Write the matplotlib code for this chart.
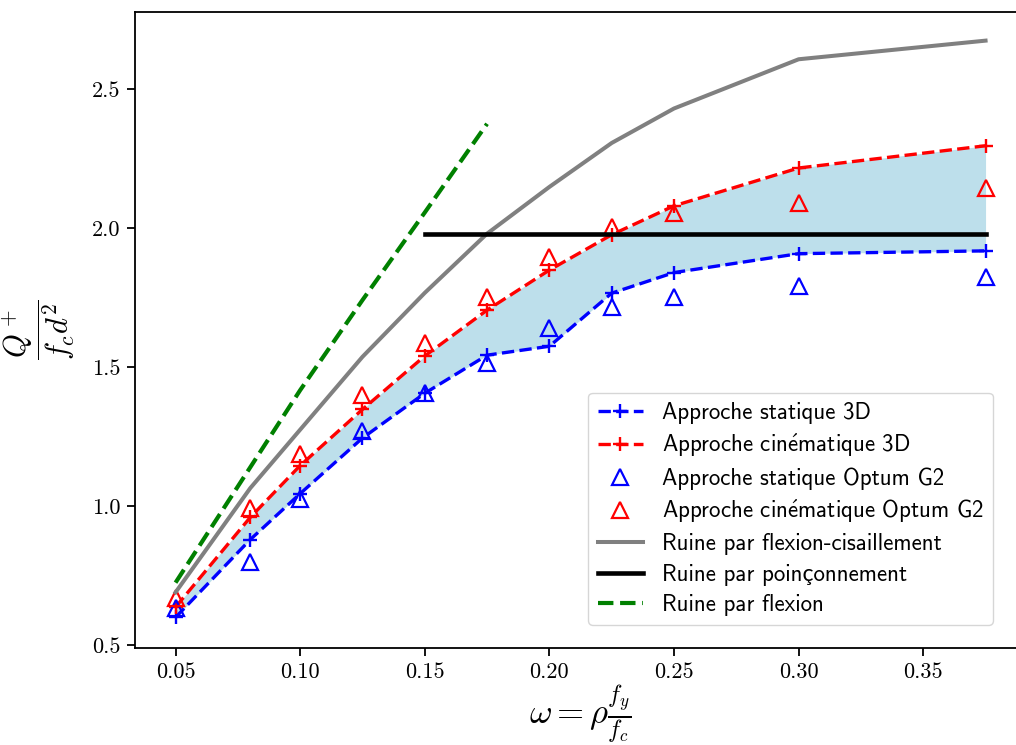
import numpy as np
import matplotlib
matplotlib.use('Agg')
from matplotlib import pyplot as plt

# donnees
omega = [0.05, 0.08, 0.10, 0.125, 0.15, 0.175, 0.20, 0.225, 0.25, 0.30, 0.375]
statique_3d = [0.60, 0.88, 1.045, 1.245, 1.406, 1.543, 1.575, 1.766, 1.840, 1.908, 1.918]
cinematique_3d = [0.637, 0.96, 1.146, 1.348, 1.540, 1.705, 1.849, 1.976, 2.080, 2.216, 2.296]
statique_optum = [0.633, 0.80, 1.025, 1.272, 1.406, 1.514, 1.640, 1.716, 1.752, 1.790, 1.824]
cinematique_optum = [0.668, 0.995, 1.187, 1.400, 1.588, 1.752, 1.896, 2.004, 2.056, 2.090, 2.144]
flexion_cisaillement = [0.69, 1.065, 1.275, 1.537, 1.767, 1.980, 2.148, 2.306, 2.430, 2.607, 2.674]
omega_flexion = [0.05, 0.08, 0.10, 0.125, 0.15, 0.175]
flexion = [0.725, 1.14, 1.417, 1.741, 2.056, 2.375]
omega_poinc = [0.15, 0.375]
poinconnement = [1.978, 1.978]

plt.rcParams['font.family'] = 'serif'
plt.rcParams['font.serif'] = ['cmr10']
plt.rcParams['mathtext.fontset'] = 'cm'
plt.rcParams['axes.unicode_minus'] = False

fig = plt.figure(figsize=(10.16, 7.45), dpi=100)
ax = fig.add_axes([0.1329, 0.1302, 0.877, 0.8537])

ax.fill_between(omega, statique_3d, cinematique_3d, color='lightblue', alpha=0.8, lw=0)
ax.plot(omega, statique_3d, '--', color='blue', marker='+', ms=9.6, mew=1.7, lw=2.4,
        label='Approche statique 3D')
ax.plot(omega, cinematique_3d, '--', color='red', marker='+', ms=9.6, mew=1.7, lw=2.4,
        label=r'Approche cin$\acute{\mathsf{e}}$matique 3D')
ax.plot(omega, statique_optum, '^', color='blue', mfc='none', ms=12, mew=1.6, ls='none',
        label='Approche statique Optum G2')
ax.plot(omega, cinematique_optum, '^', color='red', mfc='none', ms=12, mew=1.6, ls='none',
        label=r'Approche cin$\acute{\mathsf{e}}$matique Optum G2')
ax.plot(omega, flexion_cisaillement, '-', color='grey', lw=2.9,
        label='Ruine par flexion-cisaillement')
ax.plot(omega_poinc, poinconnement, '-', color='black', lw=3.3,
        label='Ruine par poinçonnement')
ax.plot(omega_flexion, flexion, '--', color='green', lw=3.0,
        label='Ruine par flexion')

ax.set_xlim(0.03375, 0.39125)
ax.set_ylim(0.49, 2.777)
ax.set_xticks([0.05, 0.10, 0.15, 0.20, 0.25, 0.30, 0.35])
ax.set_xticklabels(['0.05', '0.10', '0.15', '0.20', '0.25', '0.30', '0.35'])
ax.set_yticks([0.5, 1.0, 1.5, 2.0, 2.5])
ax.set_yticklabels(['0.5', '1.0', '1.5', '2.0', '2.5'])
ax.tick_params(labelsize=16, width=1.3, length=5.6, pad=5)
for s in ax.spines.values():
    s.set_linewidth(1.3)

ax.set_xlabel(r'$\omega = \rho\frac{f_y}{f_c}$', fontsize=25, labelpad=1)
ax.set_ylabel(r'$\dfrac{Q^+}{f_c d^2}$', fontsize=22, labelpad=11)

ax.legend(loc='lower right', bbox_to_anchor=(993 / 1016, 120 / 745),
          bbox_transform=fig.transFigure, borderaxespad=0, labelspacing=0.36,
          prop={'family': ['cmss10', 'Lato'], 'size': 16.5})

fig.savefig('out.png', dpi=100)
